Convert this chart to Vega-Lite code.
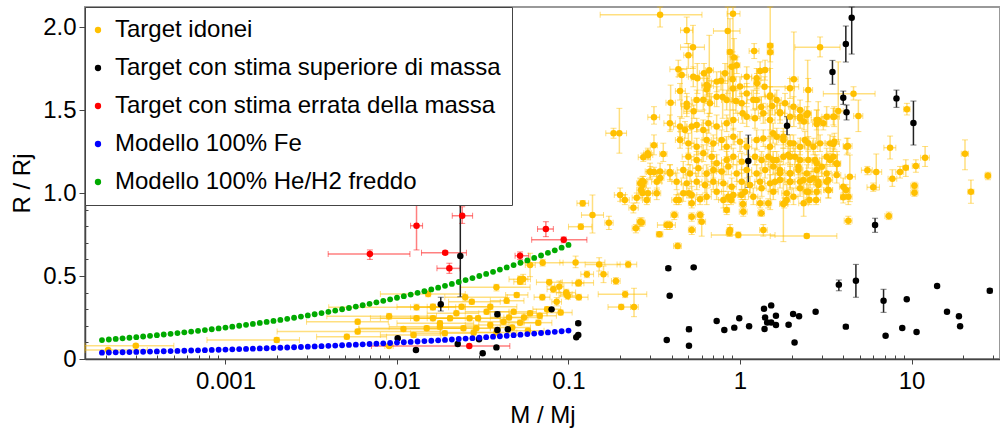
{
"$schema":"https://vega.github.io/schema/vega-lite/v6.json",
"width":915,"height":352,
"autosize":{"type":"none"},
"padding":{"left":85,"top":7,"right":0,"bottom":80},
"config":{
"view":{"stroke":"#999","strokeWidth":2},
"font":"Liberation Sans",
"axis":{"labelFont":"Liberation Sans","labelFontSize":24,"labelColor":"#000","titleFont":"Liberation Sans","titleFontSize":24,"titleFontWeight":"normal","titleColor":"#000","grid":false,"domainColor":"#444","tickColor":"#444"}
},
"datasets":{
"pts":[
{"c":"g","m":0.342,"r":2.074,"ml":0.153,"mh":0.6,"rl":2.0,"rh":2.15},
{"c":"g","m":0.91,"r":2.08,"ml":0.84,"mh":1.0,"rl":1.55,"rh":2.2},
{"c":"g","m":0.489,"r":1.98,"ml":0.45,"mh":0.53,"rl":1.9,"rh":2.06},
{"c":"g","m":0.848,"r":1.976,"ml":0.7,"mh":1.0,"rl":1.6,"rh":2.15},
{"c":"g","m":0.532,"r":1.878,"ml":0.45,"mh":0.62,"rl":1.75,"rh":2.01},
{"c":"g","m":0.5,"r":1.83,"ml":0.47,"mh":0.53,"rl":1.75,"rh":1.9},
{"c":"g","m":1.21,"r":1.855,"ml":1.13,"mh":1.29,"rl":1.81,"rh":1.9},
{"c":"g","m":1.5,"r":1.887,"ml":1.44,"mh":1.56,"rl":1.45,"rh":2.2},
{"c":"g","m":1.5,"r":1.848,"ml":1.44,"mh":1.57,"rl":1.79,"rh":1.9},
{"c":"g","m":0.874,"r":1.849,"ml":0.84,"mh":0.91,"rl":1.45,"rh":2.05},
{"c":"g","m":0.923,"r":1.817,"ml":0.88,"mh":0.97,"rl":1.7,"rh":1.93},
{"c":"g","m":0.957,"r":1.769,"ml":0.91,"mh":1.0,"rl":1.72,"rh":1.82},
{"c":"g","m":0.437,"r":1.745,"ml":0.39,"mh":0.49,"rl":1.7,"rh":1.8},
{"c":"g","m":0.457,"r":1.711,"ml":0.43,"mh":0.49,"rl":1.45,"rh":1.75},
{"c":"g","m":0.662,"r":1.739,"ml":0.63,"mh":0.7,"rl":1.46,"rh":1.95},
{"c":"g","m":0.617,"r":1.721,"ml":0.58,"mh":0.66,"rl":1.65,"rh":1.78},
{"c":"g","m":1.31,"r":1.735,"ml":1.25,"mh":1.38,"rl":1.68,"rh":1.79},
{"c":"g","m":0.564,"r":1.691,"ml":0.52,"mh":0.61,"rl":1.6,"rh":1.78},
{"c":"g","m":0.775,"r":1.676,"ml":0.65,"mh":0.85,"rl":1.62,"rh":1.73},
{"c":"g","m":0.906,"r":1.685,"ml":0.86,"mh":0.95,"rl":1.55,"rh":1.85},
{"c":"g","m":0.648,"r":1.645,"ml":0.6,"mh":0.7,"rl":1.58,"rh":1.7},
{"c":"g","m":0.639,"r":1.625,"ml":0.61,"mh":0.67,"rl":1.55,"rh":1.69},
{"c":"g","m":1.256,"r":1.661,"ml":1.2,"mh":1.32,"rl":1.6,"rh":1.72},
{"c":"g","m":1.39,"r":1.64,"ml":1.0,"mh":2.2,"rl":1.58,"rh":1.7},
{"c":"g","m":0.447,"r":1.614,"ml":0.42,"mh":0.48,"rl":1.56,"rh":1.66},
{"c":"g","m":0.611,"r":1.562,"ml":0.54,"mh":0.68,"rl":1.5,"rh":1.62},
{"c":"g","m":0.792,"r":1.578,"ml":0.74,"mh":0.85,"rl":1.45,"rh":1.7},
{"c":"g","m":0.91,"r":1.63,"ml":0.86,"mh":0.96,"rl":1.5,"rh":1.75},
{"c":"g","m":0.947,"r":1.554,"ml":0.9,"mh":0.99,"rl":1.48,"rh":1.62},
{"c":"g","m":1.196,"r":1.562,"ml":1.1,"mh":1.3,"rl":1.5,"rh":1.62},
{"c":"g","m":1.5,"r":1.588,"ml":1.4,"mh":1.6,"rl":0.9,"rh":1.75},
{"c":"g","m":0.394,"r":1.544,"ml":0.37,"mh":0.42,"rl":1.38,"rh":1.65},
{"c":"g","m":0.489,"r":1.538,"ml":0.45,"mh":0.53,"rl":1.48,"rh":1.6},
{"c":"g","m":0.537,"r":1.492,"ml":0.47,"mh":0.62,"rl":1.45,"rh":1.53},
{"c":"g","m":0.315,"r":1.456,"ml":0.29,"mh":0.34,"rl":1.415,"rh":1.52},
{"c":"g","m":1.33,"r":1.518,"ml":1.25,"mh":1.42,"rl":1.46,"rh":1.58},
{"c":"g","m":1.54,"r":1.524,"ml":1.45,"mh":1.65,"rl":1.47,"rh":1.58},
{"c":"g","m":0.39,"r":1.42,"ml":0.36,"mh":0.42,"rl":1.37,"rh":1.47},
{"c":"g","m":2.93,"r":1.878,"ml":2.09,"mh":3.83,"rl":1.82,"rh":1.94},
{"c":"g","m":2.06,"r":1.685,"ml":1.95,"mh":2.18,"rl":1.4,"rh":1.97},
{"c":"g","m":4.59,"r":1.598,"ml":3.06,"mh":6.13,"rl":1.56,"rh":1.64},
{"c":"g","m":9.4,"r":1.504,"ml":9.0,"mh":9.8,"rl":1.47,"rh":1.54},
{"c":"g","m":4.9,"r":1.464,"ml":4.6,"mh":5.2,"rl":1.37,"rh":1.56},
{"c":"g","m":3.74,"r":1.494,"ml":3.5,"mh":4.0,"rl":1.32,"rh":1.79},
{"c":"g","m":3.54,"r":1.46,"ml":3.3,"mh":3.8,"rl":1.4,"rh":1.52},
{"c":"g","m":2.86,"r":1.44,"ml":2.7,"mh":3.0,"rl":1.3,"rh":1.55},
{"c":"g","m":2.48,"r":1.48,"ml":2.35,"mh":2.6,"rl":1.2,"rh":1.8},
{"c":"g","m":2.36,"r":1.43,"ml":2.2,"mh":2.5,"rl":1.38,"rh":1.48},
{"c":"g","m":4.25,"r":1.283,"ml":4.0,"mh":4.5,"rl":1.24,"rh":1.33},
{"c":"g","m":3.5,"r":1.295,"ml":3.2,"mh":3.8,"rl":1.25,"rh":1.34},
{"c":"g","m":7.5,"r":1.273,"ml":6.9,"mh":8.1,"rl":1.205,"rh":1.343},
{"c":"g","m":12.0,"r":1.213,"ml":11.3,"mh":12.7,"rl":1.16,"rh":1.28},
{"c":"g","m":20.5,"r":1.237,"ml":19.5,"mh":21.5,"rl":1.14,"rh":1.32},
{"c":"g","m":27.9,"r":1.104,"ml":26.8,"mh":29.0,"rl":1.08,"rh":1.125},
{"c":"g","m":22.2,"r":1.008,"ml":21.3,"mh":23.1,"rl":0.938,"rh":1.078},
{"c":"g","m":5.53,"r":1.137,"ml":5.1,"mh":5.9,"rl":1.11,"rh":1.16},
{"c":"g","m":6.23,"r":1.127,"ml":5.8,"mh":6.7,"rl":1.018,"rh":1.235},
{"c":"g","m":7.73,"r":1.086,"ml":7.3,"mh":8.2,"rl":1.04,"rh":1.14},
{"c":"g","m":8.57,"r":1.127,"ml":8.1,"mh":9.0,"rl":1.09,"rh":1.16},
{"c":"g","m":9.26,"r":1.152,"ml":8.9,"mh":9.6,"rl":1.1,"rh":1.2},
{"c":"g","m":10.6,"r":1.163,"ml":10.1,"mh":11.1,"rl":1.125,"rh":1.2},
{"c":"g","m":10.4,"r":1.044,"ml":9.9,"mh":10.9,"rl":1.025,"rh":1.065},
{"c":"g","m":10.4,"r":1.002,"ml":9.9,"mh":10.9,"rl":0.98,"rh":1.02},
{"c":"g","m":5.98,"r":1.034,"ml":5.5,"mh":6.5,"rl":1.01,"rh":1.06},
{"c":"g","m":4.37,"r":1.098,"ml":4.1,"mh":4.7,"rl":0.948,"rh":1.229},
{"c":"g","m":4.15,"r":1.018,"ml":3.95,"mh":4.35,"rl":0.99,"rh":1.05},
{"c":"g","m":4.0,"r":0.974,"ml":3.85,"mh":4.15,"rl":0.94,"rh":1.0},
{"c":"g","m":3.28,"r":1.016,"ml":3.1,"mh":3.45,"rl":0.97,"rh":1.07},
{"c":"g","m":3.68,"r":1.175,"ml":3.5,"mh":3.85,"rl":1.1,"rh":1.25},
{"c":"g","m":4.28,"r":0.833,"ml":4.05,"mh":4.5,"rl":0.81,"rh":0.86},
{"c":"g","m":7.37,"r":0.861,"ml":7.0,"mh":7.7,"rl":0.84,"rh":0.885},
{"c":"g","m":2.45,"r":0.741,"ml":1.5,"mh":3.67,"rl":0.73,"rh":0.755},
{"c":"g","m":1.79,"r":0.934,"ml":1.7,"mh":1.9,"rl":0.707,"rh":1.09},
{"c":"g","m":2.78,"r":0.958,"ml":2.6,"mh":2.95,"rl":0.93,"rh":0.99},
{"c":"g","m":2.54,"r":0.958,"ml":2.4,"mh":2.7,"rl":0.93,"rh":0.99},
{"c":"g","m":2.35,"r":0.938,"ml":2.2,"mh":2.5,"rl":0.86,"rh":1.02},
{"c":"g","m":1.71,"r":1.486,"ml":1.6,"mh":1.82,"rl":1.44,"rh":1.53},
{"c":"g","m":2.24,"r":1.46,"ml":2.1,"mh":2.4,"rl":1.42,"rh":1.5},
{"c":"g","m":2.8,"r":1.416,"ml":2.65,"mh":2.95,"rl":1.3,"rh":1.5},
{"c":"g","m":3.06,"r":1.42,"ml":2.9,"mh":3.2,"rl":1.38,"rh":1.46},
{"c":"g","m":1.56,"r":1.36,"ml":1.48,"mh":1.64,"rl":1.3,"rh":1.42},
{"c":"g","m":1.79,"r":1.339,"ml":1.7,"mh":1.88,"rl":1.29,"rh":1.39},
{"c":"g","m":1.96,"r":1.3,"ml":1.85,"mh":2.07,"rl":1.25,"rh":1.35},
{"c":"g","m":2.5,"r":1.3,"ml":2.35,"mh":2.65,"rl":1.26,"rh":1.34},
{"c":"g","m":1.91,"r":1.229,"ml":1.8,"mh":2.02,"rl":1.18,"rh":1.28},
{"c":"g","m":2.09,"r":1.219,"ml":1.98,"mh":2.2,"rl":1.17,"rh":1.27},
{"c":"g","m":2.74,"r":1.199,"ml":2.6,"mh":2.9,"rl":1.15,"rh":1.25},
{"c":"g","m":3.0,"r":1.158,"ml":2.85,"mh":3.15,"rl":1.1,"rh":1.21},
{"c":"g","m":3.35,"r":1.199,"ml":3.2,"mh":3.5,"rl":1.16,"rh":1.24},
{"c":"g","m":1.56,"r":1.199,"ml":1.48,"mh":1.64,"rl":1.15,"rh":1.25},
{"c":"g","m":1.71,"r":1.119,"ml":1.62,"mh":1.8,"rl":1.07,"rh":1.17},
{"c":"g","m":1.96,"r":1.119,"ml":1.86,"mh":2.06,"rl":1.08,"rh":1.16},
{"c":"g","m":2.19,"r":1.158,"ml":2.08,"mh":2.3,"rl":1.11,"rh":1.2},
{"c":"g","m":2.34,"r":1.078,"ml":2.2,"mh":2.48,"rl":1.03,"rh":1.12},
{"c":"g","m":2.68,"r":1.089,"ml":2.55,"mh":2.8,"rl":1.05,"rh":1.13},
{"c":"g","m":2.86,"r":1.048,"ml":2.7,"mh":3.0,"rl":1.0,"rh":1.1},
{"c":"g","m":3.2,"r":1.068,"ml":3.05,"mh":3.35,"rl":1.02,"rh":1.11},
{"c":"g","m":1.6,"r":1.068,"ml":1.52,"mh":1.68,"rl":1.02,"rh":1.12},
{"c":"g","m":1.96,"r":1.068,"ml":1.86,"mh":2.06,"rl":1.03,"rh":1.11},
{"c":"g","m":2.24,"r":1.028,"ml":2.12,"mh":2.36,"rl":0.98,"rh":1.07},
{"c":"g","m":2.5,"r":1.008,"ml":2.36,"mh":2.64,"rl":0.96,"rh":1.05},
{"c":"g","m":0.447,"r":1.4,"ml":0.41,"mh":0.49,"rl":1.34,"rh":1.46},
{"c":"g","m":0.478,"r":1.38,"ml":0.44,"mh":0.52,"rl":1.33,"rh":1.43},
{"c":"g","m":0.523,"r":1.4,"ml":0.49,"mh":0.56,"rl":1.3,"rh":1.5},
{"c":"g","m":0.559,"r":1.41,"ml":0.52,"mh":0.6,"rl":1.37,"rh":1.45},
{"c":"g","m":0.611,"r":1.38,"ml":0.56,"mh":0.66,"rl":1.32,"rh":1.44},
{"c":"g","m":0.654,"r":1.42,"ml":0.61,"mh":0.7,"rl":1.36,"rh":1.48},
{"c":"g","m":0.731,"r":1.4,"ml":0.68,"mh":0.79,"rl":1.33,"rh":1.47},
{"c":"g","m":0.836,"r":1.42,"ml":0.78,"mh":0.89,"rl":1.37,"rh":1.47},
{"c":"g","m":0.914,"r":1.44,"ml":0.85,"mh":0.98,"rl":1.38,"rh":1.5},
{"c":"g","m":1.036,"r":1.48,"ml":0.97,"mh":1.1,"rl":1.42,"rh":1.54},
{"c":"g","m":1.094,"r":1.46,"ml":1.02,"mh":1.17,"rl":1.4,"rh":1.52},
{"c":"g","m":1.223,"r":1.45,"ml":1.14,"mh":1.31,"rl":1.39,"rh":1.51},
{"c":"g","m":1.368,"r":1.48,"ml":1.28,"mh":1.46,"rl":1.42,"rh":1.54},
{"c":"g","m":1.496,"r":1.44,"ml":1.4,"mh":1.6,"rl":1.38,"rh":1.5},
{"c":"g","m":1.711,"r":1.48,"ml":1.6,"mh":1.82,"rl":1.42,"rh":1.54},
{"c":"g","m":1.957,"r":1.46,"ml":1.83,"mh":2.08,"rl":1.4,"rh":1.52},
{"c":"g","m":2.24,"r":1.45,"ml":2.1,"mh":2.38,"rl":1.39,"rh":1.51},
{"c":"g","m":2.45,"r":1.47,"ml":2.3,"mh":2.6,"rl":1.42,"rh":1.52},
{"c":"g","m":2.8,"r":1.44,"ml":2.6,"mh":3.0,"rl":1.38,"rh":1.5},
{"c":"g","m":3.2,"r":1.46,"ml":3.0,"mh":3.4,"rl":1.4,"rh":1.52},
{"c":"g","m":3.5,"r":1.46,"ml":3.3,"mh":3.7,"rl":1.41,"rh":1.51},
{"c":"g","m":0.447,"r":1.319,"ml":0.42,"mh":0.475,"rl":1.27,"rh":1.37},
{"c":"g","m":0.5,"r":1.299,"ml":0.46,"mh":0.54,"rl":1.24,"rh":1.36},
{"c":"g","m":0.559,"r":1.279,"ml":0.52,"mh":0.6,"rl":1.23,"rh":1.33},
{"c":"g","m":0.639,"r":1.319,"ml":0.6,"mh":0.68,"rl":1.26,"rh":1.38},
{"c":"g","m":0.699,"r":1.299,"ml":0.65,"mh":0.75,"rl":1.25,"rh":1.35},
{"c":"g","m":0.782,"r":1.319,"ml":0.73,"mh":0.83,"rl":1.26,"rh":1.38},
{"c":"g","m":0.836,"r":1.279,"ml":0.78,"mh":0.89,"rl":1.22,"rh":1.34},
{"c":"g","m":0.914,"r":1.339,"ml":0.86,"mh":0.97,"rl":1.29,"rh":1.39},
{"c":"g","m":1.0,"r":1.309,"ml":0.93,"mh":1.07,"rl":1.25,"rh":1.37},
{"c":"g","m":1.094,"r":1.279,"ml":1.02,"mh":1.17,"rl":1.23,"rh":1.33},
{"c":"g","m":1.25,"r":1.319,"ml":1.17,"mh":1.33,"rl":1.26,"rh":1.38},
{"c":"g","m":1.368,"r":1.329,"ml":1.28,"mh":1.46,"rl":1.28,"rh":1.38},
{"c":"g","m":1.496,"r":1.279,"ml":1.4,"mh":1.6,"rl":1.22,"rh":1.34},
{"c":"g","m":1.636,"r":1.339,"ml":1.53,"mh":1.74,"rl":1.29,"rh":1.39},
{"c":"g","m":1.79,"r":1.319,"ml":1.68,"mh":1.9,"rl":1.27,"rh":1.37},
{"c":"g","m":2.05,"r":1.299,"ml":1.92,"mh":2.18,"rl":1.25,"rh":1.35},
{"c":"g","m":2.24,"r":1.279,"ml":2.1,"mh":2.38,"rl":1.23,"rh":1.33},
{"c":"g","m":2.39,"r":1.319,"ml":2.25,"mh":2.53,"rl":1.27,"rh":1.37},
{"c":"g","m":2.68,"r":1.279,"ml":2.52,"mh":2.84,"rl":1.23,"rh":1.33},
{"c":"g","m":2.93,"r":1.299,"ml":2.75,"mh":3.1,"rl":1.25,"rh":1.35},
{"c":"g","m":3.35,"r":1.299,"ml":3.15,"mh":3.55,"rl":1.25,"rh":1.35},
{"c":"g","m":0.5,"r":1.219,"ml":0.46,"mh":0.54,"rl":1.17,"rh":1.27},
{"c":"g","m":0.559,"r":1.199,"ml":0.52,"mh":0.6,"rl":1.15,"rh":1.25},
{"c":"g","m":0.611,"r":1.239,"ml":0.57,"mh":0.65,"rl":1.19,"rh":1.29},
{"c":"g","m":0.684,"r":1.219,"ml":0.64,"mh":0.73,"rl":1.16,"rh":1.28},
{"c":"g","m":0.731,"r":1.179,"ml":0.68,"mh":0.78,"rl":1.13,"rh":1.23},
{"c":"g","m":0.836,"r":1.199,"ml":0.78,"mh":0.89,"rl":1.15,"rh":1.25},
{"c":"g","m":0.914,"r":1.219,"ml":0.85,"mh":0.98,"rl":1.17,"rh":1.27},
{"c":"g","m":1.023,"r":1.189,"ml":0.96,"mh":1.09,"rl":1.14,"rh":1.24},
{"c":"g","m":1.223,"r":1.219,"ml":1.14,"mh":1.31,"rl":1.17,"rh":1.27},
{"c":"g","m":1.337,"r":1.199,"ml":1.25,"mh":1.42,"rl":1.15,"rh":1.25},
{"c":"g","m":1.463,"r":1.219,"ml":1.37,"mh":1.56,"rl":1.17,"rh":1.27},
{"c":"g","m":1.636,"r":1.199,"ml":1.53,"mh":1.74,"rl":1.15,"rh":1.25},
{"c":"g","m":1.79,"r":1.219,"ml":1.68,"mh":1.9,"rl":1.17,"rh":1.27},
{"c":"g","m":1.957,"r":1.219,"ml":1.83,"mh":2.08,"rl":1.17,"rh":1.27},
{"c":"g","m":2.24,"r":1.199,"ml":2.1,"mh":2.38,"rl":1.15,"rh":1.25},
{"c":"g","m":2.5,"r":1.199,"ml":2.35,"mh":2.65,"rl":1.15,"rh":1.25},
{"c":"g","m":2.8,"r":1.179,"ml":2.63,"mh":2.97,"rl":1.13,"rh":1.23},
{"c":"g","m":3.2,"r":1.219,"ml":3.0,"mh":3.4,"rl":1.17,"rh":1.27},
{"c":"g","m":3.5,"r":1.219,"ml":3.3,"mh":3.7,"rl":1.17,"rh":1.27},
{"c":"g","m":0.467,"r":1.139,"ml":0.43,"mh":0.5,"rl":1.09,"rh":1.19},
{"c":"g","m":0.511,"r":1.118,"ml":0.48,"mh":0.55,"rl":1.07,"rh":1.17},
{"c":"g","m":0.572,"r":1.149,"ml":0.53,"mh":0.61,"rl":1.1,"rh":1.2},
{"c":"g","m":0.639,"r":1.118,"ml":0.6,"mh":0.68,"rl":1.07,"rh":1.17},
{"c":"g","m":0.699,"r":1.139,"ml":0.65,"mh":0.75,"rl":1.09,"rh":1.19},
{"c":"g","m":0.782,"r":1.129,"ml":0.73,"mh":0.83,"rl":1.08,"rh":1.18},
{"c":"g","m":0.855,"r":1.159,"ml":0.8,"mh":0.91,"rl":1.11,"rh":1.21},
{"c":"g","m":0.956,"r":1.118,"ml":0.89,"mh":1.02,"rl":1.07,"rh":1.17},
{"c":"g","m":1.094,"r":1.139,"ml":1.02,"mh":1.17,"rl":1.09,"rh":1.19},
{"c":"g","m":1.25,"r":1.118,"ml":1.17,"mh":1.33,"rl":1.07,"rh":1.17},
{"c":"g","m":1.4,"r":1.139,"ml":1.31,"mh":1.49,"rl":1.09,"rh":1.19},
{"c":"g","m":1.564,"r":1.159,"ml":1.46,"mh":1.67,"rl":1.11,"rh":1.21},
{"c":"g","m":1.711,"r":1.139,"ml":1.6,"mh":1.82,"rl":1.09,"rh":1.19},
{"c":"g","m":1.957,"r":1.118,"ml":1.83,"mh":2.08,"rl":1.07,"rh":1.17},
{"c":"g","m":2.19,"r":1.139,"ml":2.05,"mh":2.33,"rl":1.09,"rh":1.19},
{"c":"g","m":2.45,"r":1.118,"ml":2.3,"mh":2.6,"rl":1.07,"rh":1.17},
{"c":"g","m":2.8,"r":1.139,"ml":2.63,"mh":2.97,"rl":1.09,"rh":1.19},
{"c":"g","m":3.2,"r":1.118,"ml":3.0,"mh":3.4,"rl":1.07,"rh":1.17},
{"c":"g","m":3.66,"r":1.179,"ml":3.45,"mh":3.87,"rl":1.13,"rh":1.23},
{"c":"g","m":0.391,"r":1.118,"ml":0.36,"mh":0.42,"rl":1.07,"rh":1.17},
{"c":"g","m":0.342,"r":1.129,"ml":0.32,"mh":0.365,"rl":1.08,"rh":1.18},
{"c":"g","m":0.299,"r":1.129,"ml":0.28,"mh":0.32,"rl":1.08,"rh":1.18},
{"c":"g","m":0.327,"r":1.068,"ml":0.305,"mh":0.35,"rl":1.02,"rh":1.12},
{"c":"g","m":0.427,"r":1.068,"ml":0.4,"mh":0.455,"rl":1.02,"rh":1.12},
{"c":"g","m":0.489,"r":1.058,"ml":0.455,"mh":0.52,"rl":1.01,"rh":1.11},
{"c":"g","m":0.559,"r":1.068,"ml":0.52,"mh":0.6,"rl":1.02,"rh":1.12},
{"c":"g","m":0.625,"r":1.048,"ml":0.58,"mh":0.67,"rl":1.0,"rh":1.1},
{"c":"g","m":0.699,"r":1.068,"ml":0.65,"mh":0.75,"rl":1.02,"rh":1.12},
{"c":"g","m":0.8,"r":1.058,"ml":0.75,"mh":0.85,"rl":1.01,"rh":1.11},
{"c":"g","m":0.894,"r":1.038,"ml":0.84,"mh":0.95,"rl":0.99,"rh":1.09},
{"c":"g","m":1.023,"r":1.068,"ml":0.96,"mh":1.09,"rl":1.02,"rh":1.12},
{"c":"g","m":1.143,"r":1.048,"ml":1.07,"mh":1.22,"rl":1.0,"rh":1.1},
{"c":"g","m":1.308,"r":1.068,"ml":1.22,"mh":1.39,"rl":1.02,"rh":1.12},
{"c":"g","m":1.496,"r":1.058,"ml":1.4,"mh":1.6,"rl":1.01,"rh":1.11},
{"c":"g","m":1.711,"r":1.078,"ml":1.6,"mh":1.82,"rl":1.03,"rh":1.13},
{"c":"g","m":1.957,"r":1.068,"ml":1.83,"mh":2.08,"rl":1.02,"rh":1.12},
{"c":"g","m":2.24,"r":1.068,"ml":2.1,"mh":2.38,"rl":1.02,"rh":1.12},
{"c":"g","m":2.56,"r":1.078,"ml":2.4,"mh":2.72,"rl":1.03,"rh":1.13},
{"c":"g","m":2.86,"r":1.068,"ml":2.7,"mh":3.0,"rl":1.02,"rh":1.12},
{"c":"g","m":3.27,"r":1.078,"ml":3.07,"mh":3.47,"rl":1.03,"rh":1.13},
{"c":"g","m":3.66,"r":1.108,"ml":3.45,"mh":3.87,"rl":1.06,"rh":1.16},
{"c":"g","m":0.467,"r":0.998,"ml":0.43,"mh":0.5,"rl":0.95,"rh":1.05},
{"c":"g","m":0.523,"r":0.988,"ml":0.49,"mh":0.56,"rl":0.94,"rh":1.04},
{"c":"g","m":0.639,"r":0.978,"ml":0.6,"mh":0.68,"rl":0.93,"rh":1.03},
{"c":"g","m":0.731,"r":1.008,"ml":0.68,"mh":0.78,"rl":0.96,"rh":1.06},
{"c":"g","m":0.8,"r":0.958,"ml":0.75,"mh":0.85,"rl":0.91,"rh":1.01},
{"c":"g","m":0.914,"r":0.988,"ml":0.85,"mh":0.98,"rl":0.94,"rh":1.04},
{"c":"g","m":1.069,"r":1.008,"ml":1.0,"mh":1.14,"rl":0.96,"rh":1.06},
{"c":"g","m":1.196,"r":0.978,"ml":1.12,"mh":1.27,"rl":0.93,"rh":1.03},
{"c":"g","m":1.337,"r":1.028,"ml":1.25,"mh":1.42,"rl":0.98,"rh":1.08},
{"c":"g","m":1.564,"r":1.008,"ml":1.46,"mh":1.67,"rl":0.96,"rh":1.06},
{"c":"g","m":1.872,"r":0.998,"ml":1.75,"mh":1.99,"rl":0.95,"rh":1.05},
{"c":"g","m":2.05,"r":0.978,"ml":1.92,"mh":2.18,"rl":0.93,"rh":1.03},
{"c":"g","m":2.45,"r":1.008,"ml":2.3,"mh":2.6,"rl":0.96,"rh":1.06},
{"c":"g","m":2.8,"r":1.008,"ml":2.63,"mh":2.97,"rl":0.96,"rh":1.06},
{"c":"g","m":3.27,"r":1.018,"ml":3.07,"mh":3.47,"rl":0.97,"rh":1.07},
{"c":"g","m":4.0,"r":1.038,"ml":3.8,"mh":4.2,"rl":0.99,"rh":1.09},
{"c":"g","m":4.28,"r":0.978,"ml":4.05,"mh":4.5,"rl":0.93,"rh":1.03},
{"c":"g","m":4.19,"r":1.279,"ml":4.0,"mh":4.4,"rl":1.23,"rh":1.33},
{"c":"g","m":3.55,"r":1.309,"ml":3.35,"mh":3.75,"rl":1.26,"rh":1.36},
{"c":"g","m":2.5,"r":1.62,"ml":2.35,"mh":2.65,"rl":1.55,"rh":1.69},
{"c":"g","m":1.957,"r":1.631,"ml":1.83,"mh":2.08,"rl":1.57,"rh":1.69},
{"c":"g","m":0.534,"r":1.701,"ml":0.5,"mh":0.57,"rl":1.64,"rh":1.76},
{"c":"g","m":0.639,"r":1.651,"ml":0.6,"mh":0.68,"rl":1.59,"rh":1.71},
{"c":"g","m":0.731,"r":1.671,"ml":0.68,"mh":0.78,"rl":1.61,"rh":1.73},
{"c":"g","m":0.818,"r":1.721,"ml":0.77,"mh":0.87,"rl":1.66,"rh":1.78},
{"c":"g","m":0.894,"r":1.761,"ml":0.84,"mh":0.95,"rl":1.7,"rh":1.82},
{"c":"g","m":1.0,"r":1.641,"ml":0.94,"mh":1.06,"rl":1.58,"rh":1.7},
{"c":"g","m":1.094,"r":1.701,"ml":1.02,"mh":1.17,"rl":1.64,"rh":1.76},
{"c":"g","m":1.25,"r":1.691,"ml":1.17,"mh":1.33,"rl":1.63,"rh":1.75},
{"c":"g","m":1.4,"r":1.741,"ml":1.31,"mh":1.49,"rl":1.68,"rh":1.8},
{"c":"g","m":1.496,"r":1.58,"ml":1.4,"mh":1.6,"rl":1.52,"rh":1.64},
{"c":"g","m":1.636,"r":1.56,"ml":1.53,"mh":1.74,"rl":1.5,"rh":1.62},
{"c":"g","m":1.83,"r":1.54,"ml":1.71,"mh":1.95,"rl":1.48,"rh":1.6},
{"c":"g","m":2.05,"r":1.52,"ml":1.92,"mh":2.18,"rl":1.46,"rh":1.58},
{"c":"g","m":2.24,"r":1.5,"ml":2.1,"mh":2.38,"rl":1.44,"rh":1.56},
{"c":"g","m":0.731,"r":1.58,"ml":0.68,"mh":0.78,"rl":1.52,"rh":1.64},
{"c":"g","m":0.668,"r":1.54,"ml":0.62,"mh":0.71,"rl":1.48,"rh":1.6},
{"c":"g","m":0.559,"r":1.56,"ml":0.52,"mh":0.6,"rl":1.5,"rh":1.62},
{"c":"g","m":0.489,"r":1.52,"ml":0.455,"mh":0.52,"rl":1.46,"rh":1.58},
{"c":"g","m":0.836,"r":1.56,"ml":0.78,"mh":0.89,"rl":1.5,"rh":1.62},
{"c":"g","m":1.023,"r":1.54,"ml":0.96,"mh":1.09,"rl":1.48,"rh":1.6},
{"c":"g","m":1.25,"r":1.56,"ml":1.17,"mh":1.33,"rl":1.5,"rh":1.62},
{"c":"g","m":1.094,"r":1.6,"ml":1.02,"mh":1.17,"rl":1.54,"rh":1.66},
{"c":"g","m":0.183,"r":1.36,"ml":0.165,"mh":0.2,"rl":1.33,"rh":1.39},
{"c":"g","m":0.198,"r":1.36,"ml":0.185,"mh":0.218,"rl":1.24,"rh":1.51},
{"c":"g","m":0.315,"r":1.287,"ml":0.3,"mh":0.33,"rl":1.23,"rh":1.35},
{"c":"g","m":0.273,"r":1.215,"ml":0.255,"mh":0.3,"rl":1.19,"rh":1.24},
{"c":"g","m":0.357,"r":1.235,"ml":0.34,"mh":0.375,"rl":1.19,"rh":1.3},
{"c":"g","m":0.29,"r":1.24,"ml":0.275,"mh":0.305,"rl":1.21,"rh":1.27},
{"c":"g","m":0.3,"r":1.127,"ml":0.285,"mh":0.315,"rl":1.09,"rh":1.16},
{"c":"g","m":0.315,"r":1.127,"ml":0.3,"mh":0.33,"rl":1.1,"rh":1.155},
{"c":"g","m":0.342,"r":1.09,"ml":0.325,"mh":0.36,"rl":1.06,"rh":1.12},
{"c":"g","m":0.39,"r":1.127,"ml":0.37,"mh":0.41,"rl":1.08,"rh":1.17},
{"c":"g","m":0.27,"r":1.072,"ml":0.255,"mh":0.285,"rl":1.04,"rh":1.1},
{"c":"g","m":0.27,"r":1.048,"ml":0.255,"mh":0.285,"rl":1.02,"rh":1.08},
{"c":"g","m":0.265,"r":1.018,"ml":0.25,"mh":0.28,"rl":0.99,"rh":1.05},
{"c":"g","m":0.27,"r":1.0,"ml":0.255,"mh":0.285,"rl":0.97,"rh":1.03},
{"c":"g","m":0.327,"r":0.998,"ml":0.31,"mh":0.345,"rl":0.96,"rh":1.03},
{"c":"g","m":0.25,"r":0.972,"ml":0.235,"mh":0.265,"rl":0.94,"rh":1.0},
{"c":"g","m":0.2,"r":0.988,"ml":0.185,"mh":0.215,"rl":0.95,"rh":1.03},
{"c":"g","m":0.213,"r":0.958,"ml":0.2,"mh":0.226,"rl":0.93,"rh":0.99},
{"c":"g","m":0.286,"r":0.958,"ml":0.27,"mh":0.3,"rl":0.93,"rh":0.99},
{"c":"g","m":0.239,"r":0.911,"ml":0.225,"mh":0.255,"rl":0.88,"rh":0.94},
{"c":"g","m":0.121,"r":0.938,"ml":0.112,"mh":0.131,"rl":0.92,"rh":0.955},
{"c":"g","m":0.138,"r":0.867,"ml":0.119,"mh":0.16,"rl":0.759,"rh":0.988},
{"c":"g","m":0.118,"r":0.797,"ml":0.1,"mh":0.137,"rl":0.78,"rh":0.815},
{"c":"g","m":0.172,"r":0.821,"ml":0.163,"mh":0.182,"rl":0.78,"rh":0.86},
{"c":"g","m":0.247,"r":0.787,"ml":0.235,"mh":0.26,"rl":0.76,"rh":0.81},
{"c":"g","m":0.262,"r":0.827,"ml":0.25,"mh":0.275,"rl":0.8,"rh":0.85},
{"c":"g","m":0.267,"r":0.823,"ml":0.255,"mh":0.28,"rl":0.8,"rh":0.85},
{"c":"g","m":0.374,"r":0.807,"ml":0.33,"mh":0.4,"rl":0.78,"rh":0.83},
{"c":"g","m":0.39,"r":0.807,"ml":0.36,"mh":0.42,"rl":0.78,"rh":0.83},
{"c":"g","m":0.339,"r":0.751,"ml":0.325,"mh":0.355,"rl":0.735,"rh":0.767},
{"c":"g","m":0.433,"r":0.681,"ml":0.41,"mh":0.455,"rl":0.665,"rh":0.7},
{"c":"g","m":0.414,"r":0.867,"ml":0.395,"mh":0.435,"rl":0.84,"rh":0.89},
{"c":"g","m":0.523,"r":0.857,"ml":0.5,"mh":0.55,"rl":0.83,"rh":0.88},
{"c":"g","m":0.585,"r":0.867,"ml":0.56,"mh":0.61,"rl":0.84,"rh":0.89},
{"c":"g","m":0.598,"r":0.827,"ml":0.57,"mh":0.63,"rl":0.74,"rh":0.87},
{"c":"g","m":0.874,"r":0.777,"ml":0.84,"mh":0.91,"rl":0.74,"rh":0.81},
{"c":"g","m":0.978,"r":0.747,"ml":0.68,"mh":1.6,"rl":0.73,"rh":0.765},
{"c":"g","m":1.368,"r":0.777,"ml":1.3,"mh":1.44,"rl":0.74,"rh":0.81},
{"c":"g","m":1.33,"r":0.878,"ml":1.27,"mh":1.39,"rl":0.86,"rh":0.9},
{"c":"g","m":0.836,"r":0.898,"ml":0.8,"mh":0.87,"rl":0.87,"rh":0.93},
{"c":"g","m":1.04,"r":0.934,"ml":0.99,"mh":1.09,"rl":0.91,"rh":0.96},
{"c":"g","m":1.46,"r":0.938,"ml":1.39,"mh":1.53,"rl":0.91,"rh":0.965},
{"c":"g","m":1.02,"r":0.988,"ml":0.97,"mh":1.07,"rl":0.96,"rh":1.02},
{"c":"g","m":0.425,"r":0.958,"ml":0.4,"mh":0.45,"rl":0.93,"rh":0.99},
{"c":"g","m":0.44,"r":0.958,"ml":0.42,"mh":0.46,"rl":0.93,"rh":0.99},
{"c":"g","m":0.504,"r":0.998,"ml":0.48,"mh":0.53,"rl":0.97,"rh":1.03},
{"c":"g","m":0.523,"r":0.938,"ml":0.5,"mh":0.55,"rl":0.91,"rh":0.97},
{"c":"g","m":0.585,"r":0.962,"ml":0.55,"mh":0.62,"rl":0.93,"rh":0.99},
{"c":"g","m":0.854,"r":0.978,"ml":0.81,"mh":0.9,"rl":0.95,"rh":1.01},
{"c":"g","m":0.886,"r":0.958,"ml":0.84,"mh":0.93,"rl":0.93,"rh":0.99},
{"c":"g","m":1.045,"r":0.887,"ml":0.99,"mh":1.1,"rl":0.86,"rh":0.91},
{"c":"g","m":1.31,"r":0.938,"ml":1.25,"mh":1.37,"rl":0.91,"rh":0.97},
{"c":"g","m":1.81,"r":0.938,"ml":1.72,"mh":1.9,"rl":0.91,"rh":0.97},
{"c":"g","m":1.87,"r":0.958,"ml":1.78,"mh":1.96,"rl":0.93,"rh":0.99},
{"c":"g","m":0.523,"r":0.777,"ml":0.5,"mh":0.55,"rl":0.75,"rh":0.8},
{"c":"g","m":0.866,"r":0.761,"ml":0.83,"mh":0.9,"rl":0.74,"rh":0.78},
{"c":"g","m":0.291,"r":1.229,"ml":0.275,"mh":0.31,"rl":1.2,"rh":1.26},
{"c":"g","m":0.262,"r":1.058,"ml":0.25,"mh":0.275,"rl":1.03,"rh":1.09},
{"c":"g","m":0.273,"r":1.068,"ml":0.26,"mh":0.29,"rl":1.04,"rh":1.1},
{"c":"g","m":0.291,"r":0.998,"ml":0.275,"mh":0.31,"rl":0.97,"rh":1.03},
{"c":"g","m":0.11,"r":0.582,"ml":0.089,"mh":0.163,"rl":0.55,"rh":0.62},
{"c":"g","m":0.151,"r":0.57,"ml":0.125,"mh":0.2,"rl":0.53,"rh":0.61},
{"c":"g","m":0.223,"r":0.57,"ml":0.192,"mh":0.25,"rl":0.55,"rh":0.59},
{"c":"g","m":0.128,"r":0.51,"ml":0.118,"mh":0.14,"rl":0.49,"rh":0.53},
{"c":"g","m":0.16,"r":0.51,"ml":0.15,"mh":0.17,"rl":0.46,"rh":0.56},
{"c":"g","m":0.189,"r":0.47,"ml":0.178,"mh":0.2,"rl":0.45,"rh":0.49},
{"c":"g","m":0.115,"r":0.46,"ml":0.09,"mh":0.14,"rl":0.44,"rh":0.48},
{"c":"g","m":0.097,"r":0.4,"ml":0.085,"mh":0.11,"rl":0.38,"rh":0.42},
{"c":"g","m":0.099,"r":0.38,"ml":0.088,"mh":0.11,"rl":0.36,"rh":0.4},
{"c":"g","m":0.214,"r":0.39,"ml":0.149,"mh":0.286,"rl":0.37,"rh":0.41},
{"c":"g","m":0.203,"r":0.313,"ml":0.17,"mh":0.24,"rl":0.3,"rh":0.33},
{"c":"g","m":0.241,"r":0.313,"ml":0.23,"mh":0.255,"rl":0.255,"rh":0.426},
{"c":"g","m":0.0707,"r":0.58,"ml":0.0522,"mh":0.093,"rl":0.56,"rh":0.6},
{"c":"g","m":0.0597,"r":0.566,"ml":0.056,"mh":0.064,"rl":0.496,"rh":0.637},
{"c":"g","m":0.114,"r":0.456,"ml":0.105,"mh":0.123,"rl":0.44,"rh":0.47},
{"c":"g","m":0.0544,"r":0.482,"ml":0.051,"mh":0.058,"rl":0.45,"rh":0.51},
{"c":"g","m":0.038,"r":0.432,"ml":0.0234,"mh":0.0597,"rl":0.41,"rh":0.45},
{"c":"g","m":0.0772,"r":0.462,"ml":0.065,"mh":0.092,"rl":0.44,"rh":0.48},
{"c":"g","m":0.0884,"r":0.436,"ml":0.083,"mh":0.094,"rl":0.4,"rh":0.47},
{"c":"g","m":0.0815,"r":0.42,"ml":0.075,"mh":0.088,"rl":0.4,"rh":0.44},
{"c":"g","m":0.0975,"r":0.39,"ml":0.09,"mh":0.105,"rl":0.37,"rh":0.41},
{"c":"g","m":0.0522,"r":0.48,"ml":0.045,"mh":0.06,"rl":0.46,"rh":0.5},
{"c":"g","m":0.0522,"r":0.466,"ml":0.048,"mh":0.056,"rl":0.45,"rh":0.48},
{"c":"g","m":0.0499,"r":0.386,"ml":0.043,"mh":0.058,"rl":0.37,"rh":0.4},
{"c":"g","m":0.0704,"r":0.372,"ml":0.063,"mh":0.078,"rl":0.355,"rh":0.39},
{"c":"g","m":0.0853,"r":0.345,"ml":0.08,"mh":0.091,"rl":0.32,"rh":0.37},
{"c":"g","m":0.115,"r":0.372,"ml":0.1,"mh":0.13,"rl":0.355,"rh":0.39},
{"c":"g","m":0.025,"r":0.372,"ml":0.019,"mh":0.044,"rl":0.35,"rh":0.39},
{"c":"g","m":0.0273,"r":0.345,"ml":0.02,"mh":0.04,"rl":0.33,"rh":0.36},
{"c":"g","m":0.0436,"r":0.351,"ml":0.035,"mh":0.055,"rl":0.335,"rh":0.37},
{"c":"g","m":0.035,"r":0.315,"ml":0.025,"mh":0.05,"rl":0.3,"rh":0.33},
{"c":"g","m":0.0162,"r":0.315,"ml":0.01,"mh":0.025,"rl":0.3,"rh":0.33},
{"c":"g","m":0.0479,"r":0.285,"ml":0.035,"mh":0.065,"rl":0.27,"rh":0.3},
{"c":"g","m":0.0597,"r":0.275,"ml":0.045,"mh":0.075,"rl":0.26,"rh":0.29},
{"c":"g","m":0.0522,"r":0.219,"ml":0.04,"mh":0.065,"rl":0.205,"rh":0.235},
{"c":"g","m":0.0667,"r":0.219,"ml":0.055,"mh":0.08,"rl":0.205,"rh":0.235},
{"c":"g","m":0.0418,"r":0.225,"ml":0.03,"mh":0.055,"rl":0.21,"rh":0.24},
{"c":"g","m":0.0265,"r":0.245,"ml":0.015,"mh":0.04,"rl":0.23,"rh":0.26},
{"c":"g","m":0.0297,"r":0.245,"ml":0.02,"mh":0.04,"rl":0.23,"rh":0.26},
{"c":"g","m":0.0204,"r":0.245,"ml":0.012,"mh":0.03,"rl":0.23,"rh":0.26},
{"c":"g","m":0.0222,"r":0.275,"ml":0.015,"mh":0.03,"rl":0.26,"rh":0.29},
{"c":"g","m":0.0162,"r":0.245,"ml":0.008,"mh":0.025,"rl":0.23,"rh":0.26},
{"c":"g","m":0.0178,"r":0.215,"ml":0.01,"mh":0.028,"rl":0.2,"rh":0.23},
{"c":"g","m":0.0333,"r":0.285,"ml":0.025,"mh":0.045,"rl":0.27,"rh":0.3},
{"c":"g","m":0.0238,"r":0.315,"ml":0.015,"mh":0.035,"rl":0.3,"rh":0.33},
{"c":"g","m":0.035,"r":0.205,"ml":0.025,"mh":0.045,"rl":0.19,"rh":0.22},
{"c":"g","m":0.029,"r":0.185,"ml":0.018,"mh":0.04,"rl":0.17,"rh":0.2},
{"c":"g","m":0.0244,"r":0.185,"ml":0.015,"mh":0.035,"rl":0.17,"rh":0.2},
{"c":"g","m":0.0149,"r":0.185,"ml":0.006,"mh":0.025,"rl":0.17,"rh":0.2},
{"c":"g","m":0.0178,"r":0.195,"ml":0.009,"mh":0.03,"rl":0.18,"rh":0.21},
{"c":"g","m":0.0059,"r":0.225,"ml":0.00297,"mh":0.0089,"rl":0.21,"rh":0.24},
{"c":"g","m":0.009,"r":0.257,"ml":0.0039,"mh":0.017,"rl":0.24,"rh":0.275},
{"c":"g","m":0.0059,"r":0.165,"ml":0.002,"mh":0.0178,"rl":0.15,"rh":0.18},
{"c":"g","m":0.0051,"r":0.134,"ml":0.0034,"mh":0.0087,"rl":0.12,"rh":0.15},
{"c":"g","m":0.00199,"r":0.114,"ml":0.00078,"mh":0.0027,"rl":0.1,"rh":0.13},
{"c":"g","m":0.0109,"r":0.181,"ml":0.006,"mh":0.018,"rl":0.165,"rh":0.195},
{"c":"g","m":0.013,"r":0.311,"ml":0.004,"mh":0.02,"rl":0.295,"rh":0.33},
{"c":"g","m":0.013,"r":0.245,"ml":0.007,"mh":0.02,"rl":0.23,"rh":0.26},
{"c":"g","m":0.0162,"r":0.311,"ml":0.012,"mh":0.022,"rl":0.295,"rh":0.33},
{"c":"g","m":0.0152,"r":0.392,"ml":0.008,"mh":0.025,"rl":0.375,"rh":0.41},
{"c":"g","m":0.009,"r":0.078,"ml":0.0085,"mh":0.0095,"rl":0.07,"rh":0.086},
{"c":"g","m":0.000207,"r":0.054,"ml":0.00015,"mh":0.00035,"rl":0.045,"rh":0.063},
{"c":"g","m":0.0003,"r":0.08,"ml":0.00015,"mh":0.0005,"rl":0.07,"rh":0.09},
{"c":"g","m":0.0125,"r":0.145,"ml":0.008,"mh":0.018,"rl":0.13,"rh":0.16},
{"c":"g","m":0.019,"r":0.155,"ml":0.012,"mh":0.028,"rl":0.14,"rh":0.17},
{"c":"g","m":0.028,"r":0.16,"ml":0.018,"mh":0.04,"rl":0.145,"rh":0.175},
{"c":"g","m":0.038,"r":0.16,"ml":0.028,"mh":0.05,"rl":0.145,"rh":0.175},
{"c":"g","m":0.047,"r":0.19,"ml":0.035,"mh":0.06,"rl":0.175,"rh":0.205},
{"c":"g","m":0.058,"r":0.17,"ml":0.045,"mh":0.072,"rl":0.155,"rh":0.185},
{"c":"g","m":0.045,"r":0.25,"ml":0.035,"mh":0.058,"rl":0.235,"rh":0.265},
{"c":"g","m":0.055,"r":0.25,"ml":0.042,"mh":0.07,"rl":0.235,"rh":0.265},
{"c":"g","m":0.068,"r":0.26,"ml":0.055,"mh":0.085,"rl":0.245,"rh":0.275},
{"c":"g","m":0.075,"r":0.3,"ml":0.062,"mh":0.09,"rl":0.285,"rh":0.315},
{"c":"g","m":0.09,"r":0.28,"ml":0.075,"mh":0.105,"rl":0.265,"rh":0.295},
{"c":"k","m":4.48,"r":2.056,"rl":1.837,"rh":2.13},
{"c":"k","m":4.14,"r":1.898,"rl":1.789,"rh":2.006},
{"c":"k","m":3.46,"r":1.729,"rl":1.655,"rh":1.799},
{"c":"k","m":4.0,"r":1.574,"rl":1.534,"rh":1.614},
{"c":"k","m":4.18,"r":1.486,"rl":1.44,"rh":1.53},
{"c":"k","m":8.17,"r":1.57,"rl":1.516,"rh":1.62},
{"c":"k","m":10.26,"r":1.422,"rl":1.289,"rh":1.554},
{"c":"k","m":1.88,"r":1.405,"rl":1.351,"rh":1.46},
{"c":"k","m":1.118,"r":1.193,"rl":1.034,"rh":1.349},
{"c":"k","m":6.13,"r":0.807,"rl":0.763,"rh":0.848},
{"c":"k","m":0.0234,"r":0.62,"rl":0.375,"rh":1.1},
{"c":"k","m":0.018,"r":0.33,"rl":0.289,"rh":0.372},
{"c":"k","m":0.0385,"r":0.269,"rl":0.255,"rh":0.285},
{"c":"k","m":0.0797,"r":0.299},
{"c":"k","m":0.0385,"r":0.175},
{"c":"k","m":0.0443,"r":0.179},
{"c":"k","m":0.0226,"r":0.09},
{"c":"k","m":0.0301,"r":0.119},
{"c":"k","m":0.0316,"r":0.034},
{"c":"k","m":0.038,"r":0.07},
{"c":"k","m":0.114,"r":0.215,"rl":0.205,"rh":0.225},
{"c":"k","m":0.111,"r":0.131},
{"c":"k","m":0.114,"r":0.145},
{"c":"k","m":0.0129,"r":0.054},
{"c":"k","m":0.0101,"r":0.125,"rl":0.118,"rh":0.132},
{"c":"k","m":0.382,"r":0.546,"rl":0.535,"rh":0.557},
{"c":"k","m":0.537,"r":0.552,"rl":0.545,"rh":0.559},
{"c":"k","m":0.389,"r":0.381},
{"c":"k","m":0.374,"r":0.114},
{"c":"k","m":0.504,"r":0.179,"rl":0.165,"rh":0.193},
{"c":"k","m":0.504,"r":0.08},
{"c":"k","m":0.731,"r":0.229},
{"c":"k","m":0.81,"r":0.175},
{"c":"k","m":0.926,"r":0.189},
{"c":"k","m":0.99,"r":0.245},
{"c":"k","m":1.13,"r":0.197},
{"c":"k","m":1.38,"r":0.303},
{"c":"k","m":1.52,"r":0.323},
{"c":"k","m":1.4,"r":0.25},
{"c":"k","m":1.44,"r":0.22},
{"c":"k","m":1.52,"r":0.22},
{"c":"k","m":1.62,"r":0.26},
{"c":"k","m":1.62,"r":0.205},
{"c":"k","m":1.39,"r":0.181},
{"c":"k","m":1.92,"r":0.207,"rl":0.2,"rh":0.214},
{"c":"k","m":2.04,"r":0.271},
{"c":"k","m":2.21,"r":0.257},
{"c":"k","m":2.08,"r":0.1},
{"c":"k","m":2.76,"r":0.285},
{"c":"k","m":3.77,"r":0.448,"rl":0.411,"rh":0.476},
{"c":"k","m":4.74,"r":0.472,"rl":0.372,"rh":0.57},
{"c":"k","m":4.14,"r":0.195,"rl":0.185,"rh":0.205},
{"c":"k","m":6.87,"r":0.351,"rl":0.281,"rh":0.42},
{"c":"k","m":7.06,"r":0.14},
{"c":"k","m":8.83,"r":0.187},
{"c":"k","m":9.38,"r":0.36},
{"c":"k","m":10.7,"r":0.163},
{"c":"k","m":14.1,"r":0.44},
{"c":"k","m":16.1,"r":0.285},
{"c":"k","m":18.9,"r":0.257},
{"c":"k","m":19.2,"r":0.197},
{"c":"k","m":28.6,"r":0.411,"rl":0.398,"rh":0.424},
{"c":"r","m":0.00695,"r":0.633,"ml":0.00397,"mh":0.0119,"rl":0.6,"rh":0.657},
{"c":"r","m":0.013,"r":0.803,"ml":0.012,"mh":0.0141,"rl":0.657,"rh":0.938},
{"c":"r","m":0.024,"r":0.863,"ml":0.021,"mh":0.0276,"rl":0.817,"rh":0.917},
{"c":"r","m":0.0191,"r":0.64,"ml":0.0139,"mh":0.0254,"rl":0.63,"rh":0.65},
{"c":"r","m":0.0202,"r":0.546,"ml":0.0171,"mh":0.0233,"rl":0.516,"rh":0.577},
{"c":"r","m":0.0738,"r":0.783,"ml":0.066,"mh":0.0816,"rl":0.737,"rh":0.827},
{"c":"r","m":0.0938,"r":0.719,"ml":0.061,"mh":0.128,"rl":0.7,"rh":0.735},
{"c":"r","m":0.0522,"r":0.622,"ml":0.0488,"mh":0.0585,"rl":0.6,"rh":0.645},
{"c":"r","m":0.0264,"r":0.078,"ml":0.0071,"mh":0.0455}
],
"mod":[
{"c":"b","m":0.0001905,"r":0.0383},{"c":"b","m":0.0002089,"r":0.0392},{"c":"b","m":0.0002291,"r":0.04},{"c":"b","m":0.0002512,"r":0.0409},{"c":"b","m":0.0002754,"r":0.0418},{"c":"b","m":0.000302,"r":0.0428},{"c":"b","m":0.0003311,"r":0.0437},{"c":"b","m":0.0003631,"r":0.0447},{"c":"b","m":0.0003981,"r":0.0457},{"c":"b","m":0.0004365,"r":0.0467},{"c":"b","m":0.0004786,"r":0.0477},{"c":"b","m":0.0005248,"r":0.0488},{"c":"b","m":0.0005754,"r":0.0499},{"c":"b","m":0.000631,"r":0.051},{"c":"b","m":0.0006918,"r":0.0521},{"c":"b","m":0.0007586,"r":0.0533},{"c":"b","m":0.0008318,"r":0.0545},{"c":"b","m":0.000912,"r":0.0557},{"c":"b","m":0.001,"r":0.0569},{"c":"b","m":0.001096,"r":0.0582},{"c":"b","m":0.001202,"r":0.0595},{"c":"b","m":0.001318,"r":0.0608},{"c":"b","m":0.001445,"r":0.0622},{"c":"b","m":0.001585,"r":0.0635},{"c":"b","m":0.001738,"r":0.065},{"c":"b","m":0.001905,"r":0.0664},{"c":"b","m":0.002089,"r":0.0679},{"c":"b","m":0.002291,"r":0.0694},{"c":"b","m":0.002512,"r":0.0709},{"c":"b","m":0.002754,"r":0.0725},{"c":"b","m":0.00302,"r":0.0741},{"c":"b","m":0.003311,"r":0.0758},{"c":"b","m":0.003631,"r":0.0775},{"c":"b","m":0.003981,"r":0.0792},{"c":"b","m":0.004365,"r":0.0809},{"c":"b","m":0.004786,"r":0.0827},{"c":"b","m":0.005248,"r":0.0846},{"c":"b","m":0.005754,"r":0.0865},{"c":"b","m":0.00631,"r":0.0884},{"c":"b","m":0.006918,"r":0.0903},{"c":"b","m":0.007586,"r":0.0924},{"c":"b","m":0.008318,"r":0.0944},{"c":"b","m":0.00912,"r":0.0965},{"c":"b","m":0.01,"r":0.0987},{"c":"b","m":0.01096,"r":0.1009},{"c":"b","m":0.01202,"r":0.1031},{"c":"b","m":0.01318,"r":0.1054},{"c":"b","m":0.01445,"r":0.1077},{"c":"b","m":0.01585,"r":0.1101},{"c":"b","m":0.01738,"r":0.1126},{"c":"b","m":0.01905,"r":0.1151},{"c":"b","m":0.02089,"r":0.1176},{"c":"b","m":0.02291,"r":0.1203},{"c":"b","m":0.02512,"r":0.1229},{"c":"b","m":0.02754,"r":0.1257},{"c":"b","m":0.0302,"r":0.1285},{"c":"b","m":0.03311,"r":0.1313},{"c":"b","m":0.03631,"r":0.1343},{"c":"b","m":0.03981,"r":0.1372},{"c":"b","m":0.04365,"r":0.1403},{"c":"b","m":0.04786,"r":0.1434},{"c":"b","m":0.05248,"r":0.1466},{"c":"b","m":0.05754,"r":0.1499},{"c":"b","m":0.0631,"r":0.1532},{"c":"b","m":0.06918,"r":0.1566},{"c":"b","m":0.07586,"r":0.1601},{"c":"b","m":0.08318,"r":0.1636},{"c":"b","m":0.0912,"r":0.1673},{"c":"b","m":0.1,"r":0.171},
{"c":"gr","m":0.0001905,"r":0.1142},{"c":"gr","m":0.0002089,"r":0.1175},{"c":"gr","m":0.0002291,"r":0.1209},{"c":"gr","m":0.0002512,"r":0.1244},{"c":"gr","m":0.0002754,"r":0.128},{"c":"gr","m":0.000302,"r":0.1317},{"c":"gr","m":0.0003311,"r":0.1355},{"c":"gr","m":0.0003631,"r":0.1394},{"c":"gr","m":0.0003981,"r":0.1434},{"c":"gr","m":0.0004365,"r":0.1475},{"c":"gr","m":0.0004786,"r":0.1517},{"c":"gr","m":0.0005248,"r":0.156},{"c":"gr","m":0.0005754,"r":0.1604},{"c":"gr","m":0.000631,"r":0.165},{"c":"gr","m":0.0006918,"r":0.1696},{"c":"gr","m":0.0007586,"r":0.1744},{"c":"gr","m":0.0008318,"r":0.1793},{"c":"gr","m":0.000912,"r":0.1843},{"c":"gr","m":0.001,"r":0.1895},{"c":"gr","m":0.001096,"r":0.1948},{"c":"gr","m":0.001202,"r":0.2002},{"c":"gr","m":0.001318,"r":0.2058},{"c":"gr","m":0.001445,"r":0.2115},{"c":"gr","m":0.001585,"r":0.2172},{"c":"gr","m":0.001738,"r":0.2232},{"c":"gr","m":0.001905,"r":0.2293},{"c":"gr","m":0.002089,"r":0.2356},{"c":"gr","m":0.002291,"r":0.242},{"c":"gr","m":0.002512,"r":0.2486},{"c":"gr","m":0.002754,"r":0.2554},{"c":"gr","m":0.00302,"r":0.2623},{"c":"gr","m":0.003311,"r":0.2694},{"c":"gr","m":0.003631,"r":0.2767},{"c":"gr","m":0.003981,"r":0.2841},{"c":"gr","m":0.004365,"r":0.2917},{"c":"gr","m":0.004786,"r":0.2995},{"c":"gr","m":0.005248,"r":0.3074},{"c":"gr","m":0.005754,"r":0.3156},{"c":"gr","m":0.00631,"r":0.324},{"c":"gr","m":0.006918,"r":0.3325},{"c":"gr","m":0.007586,"r":0.3413},{"c":"gr","m":0.008318,"r":0.3502},{"c":"gr","m":0.00912,"r":0.3594},{"c":"gr","m":0.01,"r":0.3688},{"c":"gr","m":0.01096,"r":0.3785},{"c":"gr","m":0.01202,"r":0.3883},{"c":"gr","m":0.01318,"r":0.3984},{"c":"gr","m":0.01445,"r":0.4086},{"c":"gr","m":0.01585,"r":0.4192},{"c":"gr","m":0.01738,"r":0.4299},{"c":"gr","m":0.01905,"r":0.4409},{"c":"gr","m":0.02089,"r":0.4522},{"c":"gr","m":0.02291,"r":0.4637},{"c":"gr","m":0.02512,"r":0.4755},{"c":"gr","m":0.02754,"r":0.4875},{"c":"gr","m":0.0302,"r":0.4999},{"c":"gr","m":0.03311,"r":0.5125},{"c":"gr","m":0.03631,"r":0.5253},{"c":"gr","m":0.03981,"r":0.5385},{"c":"gr","m":0.04365,"r":0.5519},{"c":"gr","m":0.04786,"r":0.5657},{"c":"gr","m":0.05248,"r":0.5797},{"c":"gr","m":0.05754,"r":0.5941},{"c":"gr","m":0.0631,"r":0.6088},{"c":"gr","m":0.06918,"r":0.6237},{"c":"gr","m":0.07586,"r":0.6391},{"c":"gr","m":0.08318,"r":0.6547},{"c":"gr","m":0.0912,"r":0.6707},{"c":"gr","m":0.1,"r":0.687}
]
},
"layer":[
{"data":{"name":"pts"},
 "transform":[{"filter":"isValid(datum.ml) && datum.c != 'k'"}],
 "mark":{"type":"errorbar","ticks":{"size":6,"opacity":0.5},"rule":{"opacity":0.5,"strokeWidth":1.5}},
 "encoding":{
  "x":{"field":"ml","type":"quantitative","scale":{"type":"log","domain":[0.0001517,32.8],"clamp":true,"nice":false},
       "axis":{"title":"M / Mj","values":[0.001,0.01,0.1,1,10],"labelExpr":"datum.value < 0.005 ? '0.001' : datum.value < 0.05 ? '0.01' : datum.value < 0.5 ? '0.1' : datum.value < 5 ? '1' : '10'","tickSize":5,"labelPadding":5,"titlePadding":10,"domainWidth":1.5}},
  "x2":{"field":"mh"},
  "y":{"field":"r","type":"quantitative","scale":{"domain":[0,2.1205],"clamp":true,"nice":false,"zero":false},
       "axis":{"title":"R / Rj","values":[0,0.5,1,1.5,2],"labelExpr":"datum.value == 0 ? '0' : format(datum.value, '.1f')","tickSize":6,"labelPadding":3,"titlePadding":8,"domainWidth":1.5}},
  "color":{"field":"c","type":"nominal","scale":{"domain":["g","k","r","b","gr"],"range":["#FFC000","#000000","#FF0000","#0000FF","#00AA00"]}}
 }},
{"data":{"name":"pts"},
 "transform":[{"filter":"isValid(datum.rl) && datum.c != 'k'"}],
 "mark":{"type":"errorbar","ticks":{"size":6,"opacity":0.5},"rule":{"opacity":0.5,"strokeWidth":1.5}},
 "encoding":{
  "x":{"field":"m","type":"quantitative","scale":{"type":"log","domain":[0.0001517,32.8],"clamp":true,"nice":false},"axis":null},
  "y":{"field":"rl","type":"quantitative","scale":{"domain":[0,2.1205],"clamp":true,"nice":false,"zero":false},"axis":null},
  "y2":{"field":"rh"},
  "color":{"field":"c","type":"nominal","scale":{"domain":["g","k","r","b","gr"],"range":["#FFC000","#000000","#FF0000","#0000FF","#00AA00"]}}
 }},
{"data":{"name":"pts"},
 "transform":[{"filter":"isValid(datum.rl) && datum.c == 'k'"}],
 "mark":{"type":"errorbar","ticks":{"size":6,"color":"#444"},"rule":{"color":"#222","strokeWidth":1.5}},
 "encoding":{
  "x":{"field":"m","type":"quantitative","scale":{"type":"log","domain":[0.0001517,32.8],"clamp":true,"nice":false},"axis":null},
  "y":{"field":"rl","type":"quantitative","scale":{"domain":[0,2.1205],"clamp":true,"nice":false,"zero":false},"axis":null},
  "y2":{"field":"rh"}
 }},
{"data":{"name":"pts"},
 "mark":{"type":"circle","size":42,"opacity":1},
 "encoding":{
  "x":{"field":"m","type":"quantitative","scale":{"type":"log","domain":[0.0001517,32.8],"clamp":true,"nice":false},"axis":null},
  "y":{"field":"r","type":"quantitative","scale":{"domain":[0,2.1205],"clamp":true,"nice":false,"zero":false},"axis":null},
  "color":{"field":"c","type":"nominal","scale":{"domain":["g","k","r","b","gr"],"range":["#FFC000","#000000","#FF0000","#0000FF","#00AA00"]},
    "legend":{"title":null,"orient":"none","legendX":0,"legendY":0,"direction":"vertical","fillColor":"white","strokeColor":"#444","padding":11,"labelFontSize":24,"labelFont":"Liberation Sans","labelColor":"#000","labelLimit":700,"labelOffset":5,"symbolOffset":-10,"rowPadding":14,"symbolType":"circle","symbolSize":40,"symbolStrokeWidth":0,"symbolOpacity":1,
      "encode":{"symbols":{"update":{"opacity":{"value":1},"fillOpacity":{"value":1},"strokeOpacity":{"value":1}}}},
      "labelExpr":"datum.value == 'g' ? 'Target idonei' : datum.value == 'k' ? 'Target con stima superiore di massa' : datum.value == 'r' ? 'Target con stima errata della massa' : datum.value == 'b' ? 'Modello 100% Fe' : 'Modello 100% He/H2 freddo'"}}
 }},
{"data":{"name":"mod"},
 "mark":{"type":"circle","size":34,"opacity":1},
 "encoding":{
  "x":{"field":"m","type":"quantitative","scale":{"type":"log","domain":[0.0001517,32.8],"clamp":true,"nice":false},
       "axis":{"title":null,"labels":false,"domain":false,"tickSize":-4,"values":[0.0002,0.0003,0.0004,0.0005,0.0006,0.0007,0.0008,0.0009,0.002,0.003,0.004,0.005,0.006,0.007,0.008,0.009,0.02,0.03,0.04,0.05,0.06,0.07,0.08,0.09,0.2,0.3,0.4,0.5,0.6,0.7,0.8,0.9,2,3,4,5,6,7,8,9,20,30],"orient":"bottom"}},
  "y":{"field":"r","type":"quantitative","scale":{"domain":[0,2.1205],"clamp":true,"nice":false,"zero":false},
       "axis":{"title":null,"labels":false,"domain":false,"tickSize":-3,"values":[0.1,0.2,0.3,0.4,0.6,0.7,0.8,0.9,1.1,1.2,1.3,1.4,1.6,1.7,1.8,1.9,2.1],"orient":"left"}},
  "color":{"field":"c","type":"nominal","scale":{"domain":["g","k","r","b","gr"],"range":["#FFC000","#000000","#FF0000","#0000FF","#00AA00"]}}
 }}
],
"resolve":{"axis":{"x":"independent","y":"independent"}}
}
